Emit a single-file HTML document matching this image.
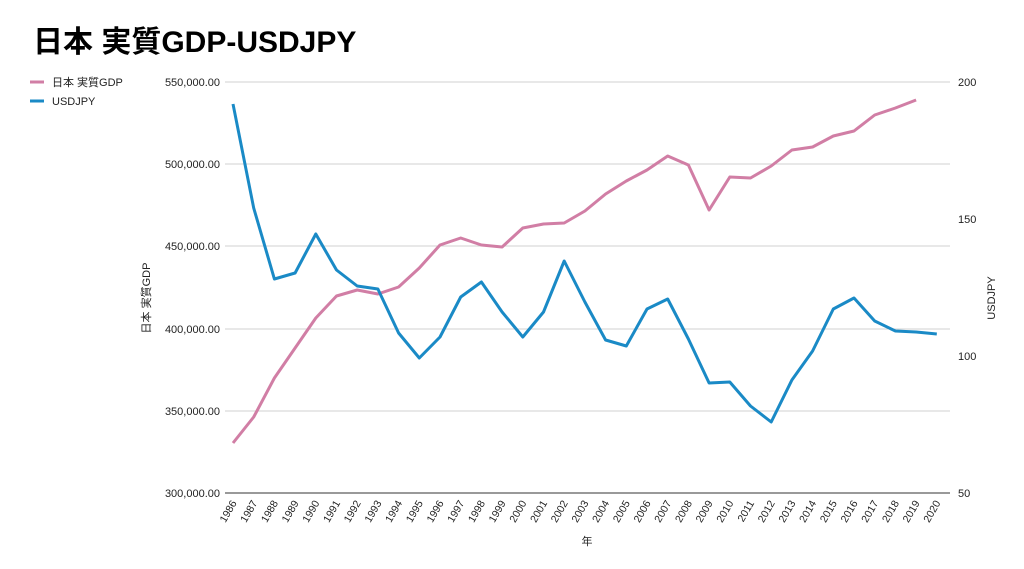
<!DOCTYPE html>
<html><head><meta charset="utf-8"><style>
body{margin:0;background:#fff;}
svg{display:block;font-family:"Liberation Sans","Noto Sans CJK JP",sans-serif;}
</style></head><body>
<svg width="1024" height="569" viewBox="0 0 1024 569">
<rect width="1024" height="569" fill="#fff"/>
<text x="33" y="52" font-size="30" font-weight="bold" fill="#000">日本 実質GDP-USDJPY</text>
<line x1="30" y1="82" x2="44" y2="82" stroke="#d17ea5" stroke-width="3"/>
<text x="52" y="86" font-size="11" fill="#222">日本 実質GDP</text>
<line x1="30" y1="101" x2="44" y2="101" stroke="#1a8ac6" stroke-width="3"/>
<text x="52" y="105" font-size="11" fill="#222">USDJPY</text>
<g stroke="#d0d0d0" stroke-width="1">
<line x1="225" y1="82" x2="950" y2="82"/>
<line x1="225" y1="164" x2="950" y2="164"/>
<line x1="225" y1="246" x2="950" y2="246"/>
<line x1="225" y1="329" x2="950" y2="329"/>
<line x1="225" y1="411" x2="950" y2="411"/>
</g>
<line x1="225" y1="493" x2="950" y2="493" stroke="#333" stroke-width="1"/>
<g font-size="11" fill="#222" text-anchor="end">
<text x="220" y="86">550,000.00</text>
<text x="220" y="168">500,000.00</text>
<text x="220" y="250">450,000.00</text>
<text x="220" y="333">400,000.00</text>
<text x="220" y="415">350,000.00</text>
<text x="220" y="497">300,000.00</text>
</g>
<g font-size="11" fill="#222" text-anchor="start">
<text x="958" y="86">200</text>
<text x="958" y="223">150</text>
<text x="958" y="360">100</text>
<text x="958" y="497">50</text>
</g>
<text transform="translate(150,298) rotate(-90)" font-size="11" text-anchor="middle" fill="#222">日本 実質GDP</text>
<text transform="translate(995,298) rotate(-90)" font-size="11" text-anchor="middle" fill="#222">USDJPY</text>
<text x="587" y="545" font-size="11" text-anchor="middle" fill="#222">年</text>
<g id="xl" font-size="10.5" fill="#222" text-anchor="end"></g>
<polyline id="gdp" fill="none" stroke="#d17ea5" stroke-width="3" stroke-linejoin="round"/>
<polyline id="fx" fill="none" stroke="#1a8ac6" stroke-width="3" stroke-linejoin="round"/>
</svg>
<script>
var g=[443,417,378,348,318,296,290,294,287,268,245,238,245,247,228,224,223,211,194,181,170,156,165,210,177,178,166,150,147,136,131,115,108,100];
var f=[104,208,279,273,234,270,286,289,333,358,337,297,282,312,337,312,261,302,340,346,309,299,339,383,382,406,422,380,351,309,298,321,331,332,334];
function X(i){return 233+i*20.7;}
document.getElementById('gdp').setAttribute('points',g.map((y,i)=>X(i)+','+y).join(' '));
document.getElementById('fx').setAttribute('points',f.map((y,i)=>X(i)+','+y).join(' '));
var xl=document.getElementById('xl'),s='';
for(var i=0;i<35;i++){var x=X(i)+4;s+='<text transform="translate('+x+',503) rotate(-60)">'+(1986+i)+'</text>';}
xl.innerHTML=s;
</script>
</body></html>
